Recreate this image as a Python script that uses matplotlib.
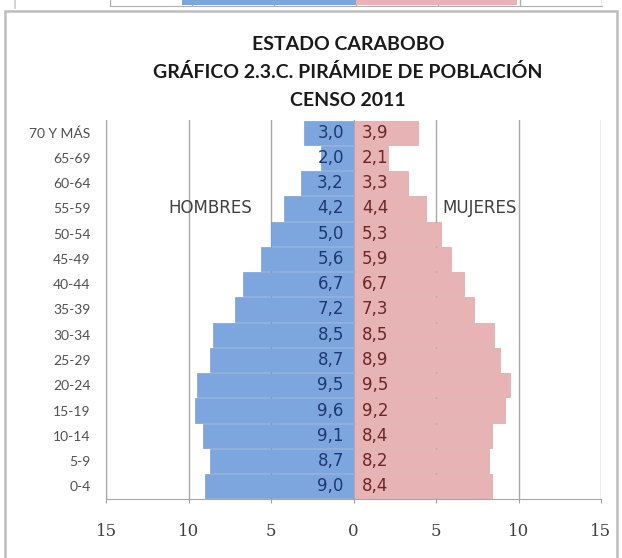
import matplotlib
matplotlib.use('Agg')
from matplotlib import pyplot as plt
from matplotlib.patches import Rectangle
from matplotlib.lines import Line2D

# Age groups, from bottom to top
grupos = ['0-4', '5-9', '10-14', '15-19', '20-24', '25-29', '30-34', '35-39',
          '40-44', '45-49', '50-54', '55-59', '60-64', '65-69', '70 Y MÁS']
hombres = [9.0, 8.7, 9.1, 9.6, 9.5, 8.7, 8.5, 7.2, 6.7, 5.6, 5.0, 4.2, 3.2, 2.0, 3.0]
mujeres = [8.4, 8.2, 8.4, 9.2, 9.5, 8.9, 8.5, 7.3, 6.7, 5.9, 5.3, 4.4, 3.3, 2.1, 3.9]
x_ticks = [-15, -10, -5, 0, 5, 10, 15]

# bottom row of the previous chart, cut off at the top of the picture
prev_hombres = [10.6]
prev_mujeres = [9.8]

azul = '#7ea6de'
rosa = '#e8b3b4'
narrow = ['Lato', 'DejaVu Sans']

W, H = 622, 558
fig = plt.figure(figsize=(W / 100, H / 100), dpi=100)
fig.patch.set_facecolor('white')

def fx(px):
    return px / W

def fy(py):
    return 1 - py / H

# ---- previous chart (only the bottom few pixels are visible)
axp = fig.add_axes([fx(110), fy(6), fx(602) - fx(110), fy(0) - fy(6)])
axp.barh([0], [-v for v in prev_hombres], height=1, color=azul)
axp.barh([0], prev_mujeres, height=1, color=rosa)
axp.set_xlim(-15, 15)
axp.set_ylim(-0.7, 0.3)
axp.set_xticks(x_ticks)
axp.grid(axis='x', color='#b0b0b0', lw=1)
axp.set_axisbelow(True)
axp.tick_params(length=0, labelbottom=False, labelleft=False)
axp.set_yticks([])
for s in ['top', 'right', 'left']:
    axp.spines[s].set_visible(False)
axp.spines['bottom'].set_color('#b0b0b0')
fig.add_artist(Line2D([fx(15), fx(15)], [fy(0), fy(8)], color='#c8c8c8', lw=1.2))

# ---- frame of the main chart
fig.add_artist(Rectangle((fx(5), fy(575)), fx(617) - fx(5), fy(11) - fy(575),
                         fill=False, edgecolor='#bdbdbd', lw=1.8))

# ---- main chart
ax = fig.add_axes([fx(106), fy(499), fx(601) - fx(106), fy(120) - fy(499)])
y = list(range(len(grupos)))
ax.barh(y, [-v for v in hombres], height=0.96, color=azul,
        edgecolor='#6d94cc', lw=0.4)
ax.barh(y, mujeres, height=0.96, color=rosa, edgecolor='#d49c9d', lw=0.4)

for i in y:
    ax.annotate(f'{hombres[i]:.1f}'.replace('.', ','), xy=(0, i), xytext=(-7, 0),
                textcoords='offset points', ha='right', va='center',
                fontsize=12, color='#1f3770')
    ax.annotate(f'{mujeres[i]:.1f}'.replace('.', ','), xy=(0, i), xytext=(6, 0),
                textcoords='offset points', ha='left', va='center',
                fontsize=12, color='#6a2628')

ax.set_xlim(-15, 15)
ax.set_ylim(-0.5, len(grupos) - 0.5)
ax.set_xticks(x_ticks)
ax.set_xticklabels([str(abs(t)) for t in x_ticks], family='DejaVu Serif',
                   fontsize=12, color='#404040')
ax.set_yticks(y)
ax.set_yticklabels(grupos, family=narrow, fontsize=10, color='#505050')
ax.tick_params(axis='y', length=0, pad=11)
ax.tick_params(axis='x', length=3, pad=14, color='#a0a0a0')
ax.grid(axis='x', color='#a8a8a8', lw=1)
ax.set_axisbelow(True)
for s in ['top', 'right']:
    ax.spines[s].set_visible(False)
ax.spines['left'].set_color('#a8a8a8')
ax.spines['bottom'].set_color('#a8a8a8')

ax.text(-8.7, 11, 'HOMBRES', ha='center', va='center', fontsize=12, color='#404040')
ax.text(5.4, 11, 'MUJERES', ha='left', va='center', fontsize=12, color='#404040')

# ---- title
titulo = ['ESTADO CARABOBO', 'GRÁFICO 2.3.C. PIRÁMIDE DE POBLACIÓN', 'CENSO 2011']
for k, linea in enumerate(titulo):
    fig.text(fx(348), fy(44 + 28 * k), linea, ha='center', va='center',
             family=narrow, fontweight='bold', fontsize=14, color='#1a1a1a')

fig.savefig('out.png', dpi=100)
